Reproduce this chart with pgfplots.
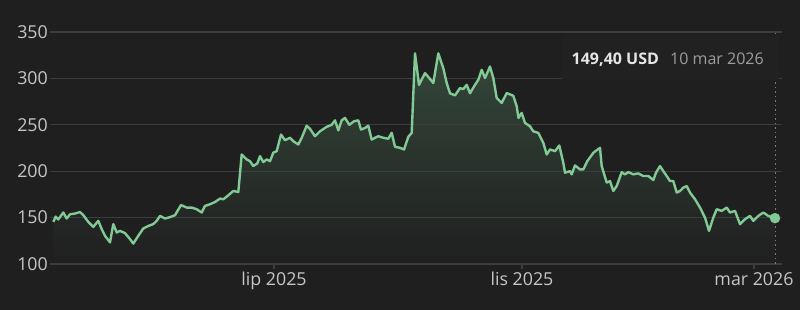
\documentclass[border=0pt]{standalone}
\usepackage{fontspec}
\setmainfont{Open Sans}
\usepackage{pgfplots}
\usepackage{pgfplotstable}
\pgfplotsset{compat=1.18}
\definecolor{bg}{HTML}{1F1F1F}
\definecolor{gridc}{HTML}{3D3D3D}
\definecolor{txt}{HTML}{C4C7C5}
\definecolor{linec}{HTML}{81C995}
\definecolor{filltop}{HTML}{34473A}
\definecolor{tipbg}{HTML}{212121}
\definecolor{tipwhite}{HTML}{E6E6E6}
\definecolor{tipgray}{HTML}{9E9E9E}
\definecolor{dotc}{HTML}{7A7A7A}

\pgfplotstableread{
x y
53.3 145.4
55.7 151
58.3 148
63.3 155.5
66.7 149
70 153.6
75 154.4
80 156
83.3 152.6
88.3 145.4
93.3 140
98.3 146.5
101.7 137.6
105 130.4
110 123.3
113.3 143
116.7 134
120 135.7
125 133.3
130 126.8
133.3 122
138.3 130.4
143.3 138.3
148.3 141
153.3 143
156.7 146.5
160 151.8
165 149
170 150.5
175 152.6
181 163.5
186.7 160.8
191.7 160.8
196.7 159
201.7 155.5
205 162.6
210 164.4
215 166.8
220 170.5
223.3 169.7
228.3 174
233.3 178.7
238.3 177.6
241.7 218
246.7 212.7
250 210.8
253.3 205.5
257.3 208.4
260 216.2
263.3 209.8
266.7 212.7
270 210.8
273.3 220
276.7 221.6
281 239.5
285 233.4
290 236
293.3 232.3
298.3 228.8
301.7 236
306.7 249
310 245.6
315 237.7
320 243
326.7 247.8
331.7 250
335 254.8
338.3 244
341.7 254.8
345 257.4
349.3 250
354 253.8
358.3 254.8
361 244.8
365 246.6
368.3 249
371.7 234
375 236
378.3 237.7
383.3 236
388.3 235
391.7 241.3
395 226.3
400 225.2
404 223.4
408.3 237
411.7 241.3
415 327
419 293
425 305.7
429.3 300.3
433.3 295
438.3 327
443.3 311
446.7 295
450 284
455 281.7
460 289.6
463.3 288.5
466.7 293
470 284
475 293
478.3 298.5
481.7 309.2
485 300.3
490 312.8
493.3 300.3
496.7 278.9
501.7 273.5
506.7 284.2
513.3 281.3
516.7 269.9
518.5 257.4
521.7 262.8
525 252
530 248.4
533.3 243
538.3 241.3
543.3 230.6
546.7 218
550 223.4
555 221.6
559.3 227.7
563.3 209
565 198.4
570 200.1
571.7 196.6
575 206.2
580 201.9
583.3 201.9
587.3 210.8
593.3 219.8
600 225.2
601.7 205.5
606.7 187.7
610 189.4
613.3 178.7
616.7 184
621.7 198.9
625 196.6
628.3 199
633.3 196.6
638.3 197.6
643.3 194.8
648.3 194.8
653.3 190.5
656 198.4
660 205.5
663.3 200.1
666.7 194.8
670 189.4
673.3 189.4
676.7 177
680 178.7
683.3 182.3
686.7 184
690 177
695 169.8
700 160.8
705 150
709 135.7
713.3 150
716.7 159
721.7 157.2
726.7 160.8
730 155.5
735 157.2
740 142.9
745 148.3
750 151.8
753.3 146.5
758.3 151.8
763.3 155.5
768.3 151.8
775 149.4
}\pricedata

\begin{document}
\pagecolor{bg}%
\begin{tikzpicture}[x=1pt,y=1pt]
\begin{axis}[
  set layers,
  at={(50pt,46pt)}, anchor=south west,
  scale only axis, width=732pt, height=232pt,
  xmin=50, xmax=782, ymin=100, ymax=350,
  axis line style={draw=none},
  ymajorgrids, grid style={gridc, line width=1.1pt},
  ytick={100,150,200,250,300,350},
  xtick={274,522,754},
  xticklabels={lip 2025, lis 2025, mar 2026},
  xtick pos=bottom, ytick pos=left,
  tick align=outside, major tick length=5pt,
  xtick style={gridc, line width=1.1pt},
  ytick style={draw=none},
  /pgf/number format/assume math mode=true,
  ticklabel style={font=\fontsize{17.8}{20}\selectfont, text=txt, inner sep=0pt},
  yticklabel style={anchor=east, xshift=3pt},
  xticklabel style={anchor=north, yshift=-3pt},
]
\addplot[on layer=axis background, draw=none, top color=filltop, bottom color=bg] table[x=x,y=y] {\pricedata} \closedcycle;
\addplot[dotc, line width=1pt, dash pattern=on 1.5pt off 3pt] coordinates {(775,100) (775,350)};
\addplot[linec, line width=2.4pt, line join=round] table[x=x,y=y] {\pricedata};
\addplot[only marks, mark=*, mark size=5pt, color=linec] coordinates {(775,149.4)};
\end{axis}
\fill[tipbg] (562,231) rectangle (779,274);
\node[anchor=base west, inner sep=0pt, text=tipwhite, font=\fontsize{16}{18}\selectfont\bfseries] at (571.5,245) {149,40 USD};
\node[anchor=base west, inner sep=0pt, text=tipgray, font=\fontsize{16}{18}\selectfont] at (670,245) {10 mar 2026};
\pgfresetboundingbox
\path (0,0) rectangle (800,310);
\end{tikzpicture}
\end{document}
